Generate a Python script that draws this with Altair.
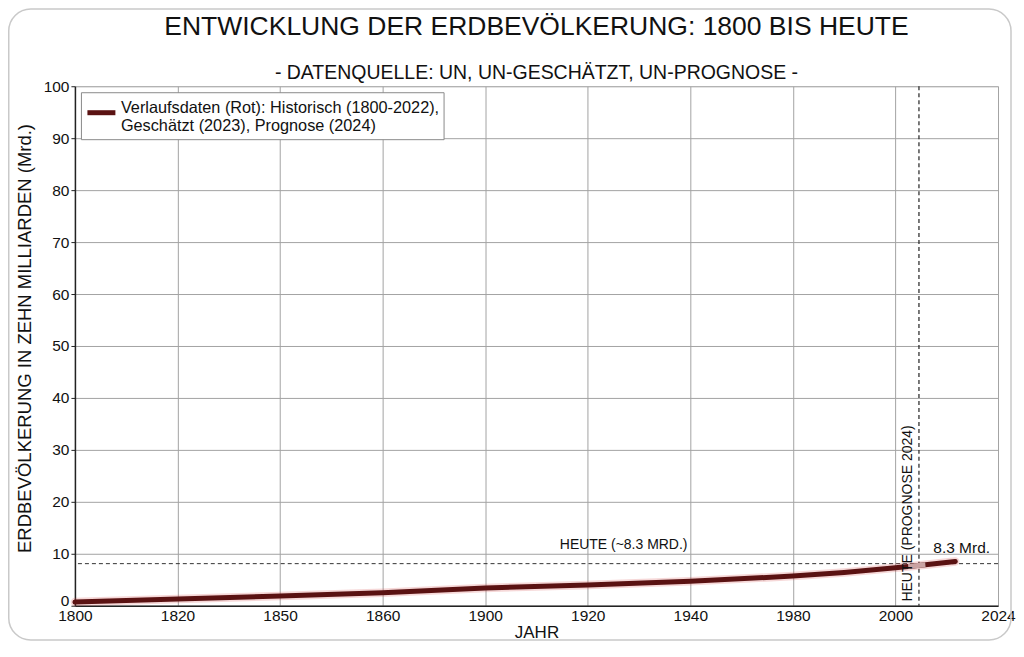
import altair as alt
import pandas as pd

# ---------------- data ----------------
years = [1800, 1820, 1850, 1860, 1900, 1920, 1940, 1980, 1990, 2000, 2003, 2007, 2014]
population = [0.7, 1.3, 1.85, 2.5, 3.4, 4.0, 4.7, 5.7, 6.4, 7.3, 7.55, 7.9, 8.5]
faded_from = 2003
faded_to = 2007

tick_years = [1800, 1820, 1850, 1860, 1900, 1920, 1940, 1980, 2000, 2024]
y_ticks = [0, 10, 20, 30, 40, 50, 60, 70, 80, 90, 100]

series_label = "Verlaufsdaten (Rot): Historisch (1800-2022),|Geschätzt (2023), Prognose (2024)"

today_level = [8.1]
today_year = [2005.5]

annot_text = ["HEUTE (~8.3 MRD.)", "8.3 Mrd."]
annot_year = [1927, 2015.5]
annot_value = [10.9, 10.15]
annot_size = [14, 15.5]

vlabel_text = ["HEUTE (PROGNOSE 2024)"]
vlabel_year = [2003]
vlabel_value = [0.8]

# ---------------- styling ----------------
W, H = 924, 520
FONT = "Liberation Sans, Arial, sans-serif"
LINE_COLOR = "#5a1212"
TXT = "#111111"

df = pd.DataFrame({"year": years, "pop": population, "series": series_label})

x_scale = alt.Scale(domain=tick_years, range=[round(i * W / 9, 3) for i in range(10)],
                    zero=False, nice=False)
y_scale = alt.Scale(domain=[0, 100], nice=False, zero=True)

x_axis = alt.Axis(values=tick_years, format="d", title="JAHR", grid=True,
                  gridColor="#a3a3a3", gridWidth=1, ticks=False,
                  domainColor="#222222", domainWidth=1.5,
                  labelFont=FONT, labelFontSize=15.5, labelColor=TXT,
                  labelPadding=3, labelFlush=False, labelOverlap=False,
                  titleFont=FONT, titleFontSize=17, titleFontWeight="normal",
                  titleColor=TXT, titlePadding=0)
y_axis = alt.Axis(values=y_ticks, title="ERDBEVÖLKERUNG IN ZEHN MILLIARDEN (Mrd.)",
                  grid=True, gridColor="#a3a3a3", gridWidth=1,
                  tickSize=4, tickColor="#222222",
                  domainColor="#222222", domainWidth=1.5,
                  labelFont=FONT, labelFontSize=15.5, labelColor=TXT,
                  labelPadding=2,
                  labelBaseline={"condition": {"test": "datum.value === 0", "value": "alphabetic"},
                                 "value": "middle"},
                  titleFont=FONT, titleFontSize=18.5, titleFontWeight="normal",
                  titleColor=TXT, titlePadding=9, titleY=252)

X = alt.X("year:Q", scale=x_scale, axis=x_axis)
Y = alt.Y("pop:Q", scale=y_scale, axis=y_axis)

border = alt.Chart(alt.Data(values=[{"k": 1}])).mark_rect(
    cornerRadius=22, fillOpacity=0, stroke="#c9c9c9", strokeWidth=1.5
).encode(x=alt.value(-66.25), x2=alt.value(937), y=alt.value(-77.25), y2=alt.value(554.25))

hline = alt.Chart(pd.DataFrame({"pop": today_level})).mark_rule(
    color="#333333", strokeWidth=1, strokeDash=[4, 3]
).encode(y=Y)

vline = alt.Chart(pd.DataFrame({"year": today_year})).mark_rule(
    color="#222222", strokeWidth=1.2, strokeDash=[4, 3]
).encode(x=X)

glow = alt.Chart(df).mark_line(color="#d03a3a", strokeWidth=8.5, opacity=0.2,
                               strokeCap="round").encode(x=X, y=Y)

main = alt.Chart(df).mark_line(strokeWidth=5, strokeCap="round").encode(
    x=X, y=Y,
    color=alt.Color("series:N",
                    scale=alt.Scale(domain=[series_label], range=[LINE_COLOR]),
                    legend=alt.Legend(title=None, orient="top-left", offset=6,
                                      symbolType="stroke", symbolStrokeWidth=5,
                                      symbolSize=784, symbolStrokeColor=LINE_COLOR,
                                      labelExpr="split(datum.label, '|')",
                                      labelFont=FONT, labelFontSize=16.3,
                                      labelColor=TXT, labelLimit=0, labelOffset=3,
                                      labelBaseline="alphabetic",
                                      strokeColor="#8a8a8a", fillColor="white",
                                      padding=4, cornerRadius=0)),
)

faded = alt.Chart(df).transform_filter(
    f"datum.year >= {faded_from} && datum.year <= {faded_to}"
).mark_line(color="#caa2a2", strokeWidth=5).encode(x=X, y=Y)

annots = alt.Chart(pd.DataFrame({"year": annot_year, "pop": annot_value,
                                 "label": annot_text, "size": annot_size})).mark_text(
    font=FONT, color=TXT, align="center", baseline="alphabetic"
).encode(x=X, y=Y, text="label:N", size=alt.Size("size:Q", scale=None, legend=None))

vlabel = alt.Chart(pd.DataFrame({"year": vlabel_year, "pop": vlabel_value,
                                 "label": vlabel_text})).mark_text(
    font=FONT, fontSize=14, color=TXT, angle=270, align="left", baseline="middle"
).encode(x=X, y=Y, text="label:N")

chart = alt.layer(border, hline, vline, glow, main, faded, annots, vlabel).properties(
    width=W, height=H,
    title=alt.TitleParams(
        text="ENTWICKLUNG DER ERDBEVÖLKERUNG: 1800 BIS HEUTE",
        subtitle="- DATENQUELLE: UN, UN-GESCHÄTZT, UN-PROGNOSE -",
        font=FONT, fontSize=26.5, fontWeight="normal", color=TXT,
        subtitleFont=FONT, subtitleFontSize=19.5, subtitleColor=TXT,
        subtitlePadding=23.5, anchor="middle", offset=-74,
    ),
    padding=0,
).configure_view(strokeWidth=0).configure(background="white")

chart.save("out.html", embed_options={"renderer": "svg", "actions": False})
